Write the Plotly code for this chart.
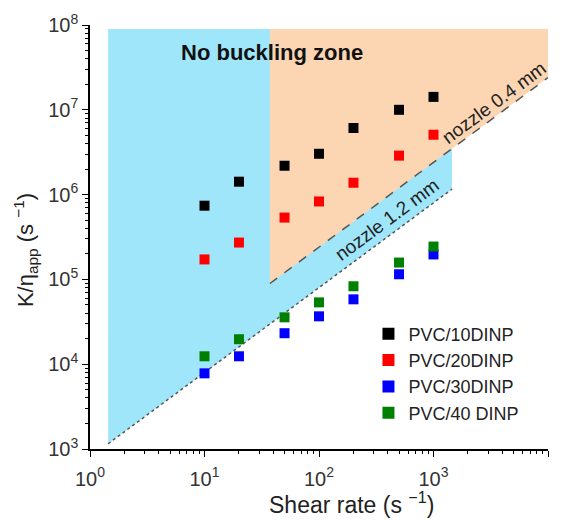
import plotly.graph_objects as go

shear = [10, 20, 50, 100, 200, 500, 1000]
pvc10 = [7.4e5, 1.42e6, 2.19e6, 3.03e6, 6.1e6, 1.0e7, 1.42e7]
pvc20 = [1.72e5, 2.72e5, 5.36e5, 8.3e5, 1.38e6, 2.88e6, 5.08e6]
pvc30 = [7.8e3, 1.24e4, 2.32e4, 3.67e4, 5.82e4, 1.15e5, 1.97e5]
pvc40 = [1.24e4, 1.97e4, 3.57e4, 5.36e4, 8.3e4, 1.58e5, 2.44e5]
series_names = ["PVC/10DINP", "PVC/20DINP", "PVC/30DINP", "PVC/40 DINP"]
series_colors = ["#000000", "#ff0000", "#0000ff", "#008000"]

# critical lines K/eta = c * shear rate
c_nozzle04 = 2400.0
c_nozzle12 = 800.0
blue_x = [1.44, 1450.0]
orange_x = [37.3, 1.0e4]
zone_top = 9.0e7

fig = go.Figure()

# blue zone (nozzle 1.2 mm)
bx = [blue_x[0], blue_x[1], blue_x[1], blue_x[0], blue_x[0]]
by = [zone_top, zone_top, c_nozzle12 * blue_x[1], c_nozzle12 * blue_x[0], zone_top]
fig.add_trace(go.Scatter(x=bx, y=by, fill="toself", fillcolor="#a0e6fa",
                         line=dict(width=0), mode="lines", showlegend=False, hoverinfo="skip"))
# orange zone (nozzle 0.4 mm)
ox = [orange_x[0], orange_x[1], orange_x[1], orange_x[0], orange_x[0]]
oy = [zone_top, zone_top, c_nozzle04 * orange_x[1], c_nozzle04 * orange_x[0], zone_top]
fig.add_trace(go.Scatter(x=ox, y=oy, fill="toself", fillcolor="#fcd5b2",
                         line=dict(width=0), mode="lines", showlegend=False, hoverinfo="skip"))
# boundary lines
fig.add_trace(go.Scatter(x=orange_x, y=[c_nozzle04 * v for v in orange_x], mode="lines",
                         line=dict(color="#555555", width=1.5, dash="dash"),
                         showlegend=False, hoverinfo="skip"))
fig.add_trace(go.Scatter(x=blue_x, y=[c_nozzle12 * v for v in blue_x], mode="lines",
                         line=dict(color="#555555", width=1.5, dash="dot"),
                         showlegend=False, hoverinfo="skip"))

for name, col, ys in zip(series_names, series_colors, [pvc10, pvc20, pvc30, pvc40]):
    fig.add_trace(go.Scatter(x=shear, y=ys, mode="markers", name=name,
                             marker=dict(symbol="square", size=10, color=col, line=dict(width=0))))

xt = [1, 10, 100, 1000, 10000]
yt = [1e3, 1e4, 1e5, 1e6, 1e7, 1e8]

fig.update_layout(
    width=561, height=520,
    margin=dict(l=90, r=13, t=25, b=71),
    paper_bgcolor="white", plot_bgcolor="white",
    font=dict(family="Liberation Sans, Arial", size=16, color="#222222"),
    xaxis=dict(type="log", range=[0, 4], tickvals=xt,
               ticktext=["10<sup>%d</sup>" % i for i in range(5)],
               showgrid=False, zeroline=False, showline=True, linecolor="black", linewidth=1.5,
               ticks="outside", ticklen=6, tickwidth=1.2, tickcolor="black",
               ticklabelstandoff=5,
               minor=dict(ticks="outside", ticklen=3.5, tickwidth=1, tickcolor="black", dtick="D1"),
               tickfont=dict(size=20, color="#333333")),
    yaxis=dict(type="log", range=[3, 8], tickvals=yt,
               ticktext=["10<sup>%d</sup>" % i for i in range(3, 9)],
               showgrid=False, zeroline=False, showline=True, linecolor="black", linewidth=1.5,
               ticks="outside", ticklen=6, tickwidth=1.2, tickcolor="black",
               minor=dict(ticks="outside", ticklen=3.5, tickwidth=1, tickcolor="black", dtick="D1"),
               tickfont=dict(size=20, color="#333333")),
    legend=dict(x=0.608, y=0.315, xanchor="left", yanchor="top", bgcolor="rgba(0,0,0,0)",
                font=dict(size=18), tracegroupgap=0, itemsizing="constant"),
    annotations=[
        dict(text="Shear rate (s <sup>−1</sup>)", xref="paper", yref="paper", x=0.572, y=-0.128,
             showarrow=False, font=dict(size=23), xanchor="center", yanchor="middle"),
        dict(text="K/η<sub>app</sub> (s <sup>−1</sup>)", xref="paper", yref="paper", x=-0.142, y=0.469,
             showarrow=False, font=dict(size=22), textangle=-90, xanchor="center", yanchor="middle"),
        dict(text="<b>No buckling zone</b>", xref="x", yref="y", x=1.59, y=7.68,
             showarrow=False, font=dict(size=22, color="#111111"), xanchor="center", yanchor="middle"),
        dict(text="nozzle 0.4 mm", xref="x", yref="y", x=3.53, y=7.09, textangle=-36.5,
             showarrow=False, font=dict(size=19, color="#222222"), xanchor="center", yanchor="middle"),
        dict(text="nozzle 1.2 mm", xref="x", yref="y", x=2.594, y=5.71, textangle=-36.5,
             showarrow=False, font=dict(size=19, color="#222222"), xanchor="center", yanchor="middle"),
    ],
)

fig.write_html("out.html")
